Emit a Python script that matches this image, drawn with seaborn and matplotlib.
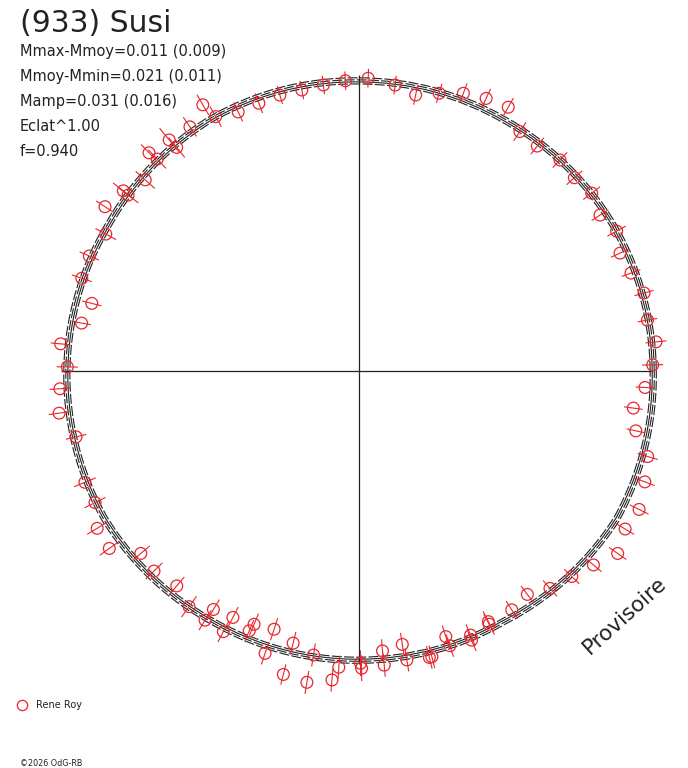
import numpy as np
import pandas as pd
import matplotlib
matplotlib.use("Agg")
import matplotlib.pyplot as plt
import seaborn as sns

# measurements: rotational phase (deg) and scaled radius, with half error bar
phase_deg = [1.2, 5.6, 10.0, 15.3, 19.8, 24.3, 28.5, 32.9, 37.4, 41.9,
             46.4, 51.6, 56.1, 60.5, 65.0, 69.4, 73.9, 78.4, 82.8, 88.2,
             92.7, 97.1, 101.5, 106.0, 110.5, 115.0, 119.4, 120.4, 124.7, 129.2,
             129.4, 133.6, 133.9, 138.2, 142.6, 142.7, 147.1, 151.6, 156.9, 161.5,
             165.8, 170.2, 174.8, 179.2, 183.4, 188.0, 193.1, 202.1, 206.5, 211.0,
             215.4, 219.9, 224.3, 229.7, 234.2, 238.3, 238.6, 242.5, 242.9, 247.1,
             247.5, 251.6, 251.8, 256.0, 256.4, 260.5, 260.9, 265.0, 266.1, 270.3,
             270.5, 274.8, 274.9, 279.0, 279.4, 283.8, 284.3, 288.1, 288.3, 292.7,
             292.9, 297.2, 297.3, 302.6, 307.0, 311.3, 316.0, 320.4, 324.8, 329.3,
             333.7, 338.8, 343.5, 347.8, 352.3, 356.7]
radius = [1.006, 1.022, 1.003, 1.012, 0.990, 0.981, 1.004, 0.983, 1.003, 0.991,
          0.998, 0.983, 0.988, 1.038, 1.030, 1.016, 0.990, 0.965, 0.987, 1.003,
          0.995, 0.987, 0.982, 0.983, 0.979, 0.979, 1.000, 1.057, 1.017, 0.988,
          1.024, 1.002, 1.037, 0.982, 1.016, 0.994, 1.036, 0.986, 1.004, 1.001,
          0.944, 0.964, 1.026, 0.999, 1.026, 1.037, 0.995, 1.013, 1.010, 1.046,
          1.049, 0.974, 0.981, 0.965, 0.995, 1.003, 0.957, 1.006, 0.948, 0.966,
          0.939, 1.019, 0.931, 1.071, 0.959, 1.081, 0.985, 1.062, 1.017, 1.001,
          1.018, 0.962, 1.011, 0.948, 1.003, 1.010, 1.010, 0.957, 0.991, 0.999,
          0.982, 0.975, 0.966, 0.971, 0.958, 0.991, 1.013, 1.042, 1.084, 1.060,
          1.070, 1.050, 1.031, 0.970, 0.948, 0.981]
radius_err = [0.036, 0.036, 0.034, 0.034, 0.034, 0.034, 0.036, 0.034, 0.036, 0.036,
              0.036, 0.036, 0.038, 0.036, 0.036, 0.036, 0.034, 0.034, 0.032, 0.032,
              0.032, 0.032, 0.032, 0.032, 0.036, 0.036, 0.040, 0.040, 0.040, 0.044,
              0.052, 0.044, 0.040, 0.044, 0.044, 0.044, 0.036, 0.040, 0.036, 0.036,
              0.034, 0.032, 0.034, 0.036, 0.036, 0.036, 0.036, 0.040, 0.040, 0.040,
              0.040, 0.040, 0.040, 0.040, 0.044, 0.040, 0.040, 0.040, 0.040, 0.040,
              0.040, 0.040, 0.040, 0.036, 0.040, 0.040, 0.040, 0.040, 0.040, 0.044,
              0.044, 0.040, 0.040, 0.040, 0.040, 0.040, 0.040, 0.040, 0.040, 0.040,
              0.040, 0.040, 0.040, 0.036, 0.036, 0.036, 0.036, 0.036, 0.036, 0.036,
              0.036, 0.036, 0.036, 0.032, 0.032, 0.032]

# fitted curve radius every 30 deg
curve_deg = [0, 30, 60, 90, 120, 150, 180, 210, 240, 270, 300, 330]
curve_r = [1.007, 1.003, 0.993, 0.993, 1.000, 0.993, 1.000, 1.007, 0.993, 0.990, 0.990, 1.017]
curve_offsets = [-0.010, -0.003, 0.004, 0.011]
curve_dashed = [True, False, True, True]

axis_deg = [0, 90, 180, 270]
axis_len = [1.0, 1.013, 1.02, 1.005]

title = "(933) Susi"
stats = ["Mmax-Mmoy=0.011 (0.009)", "Mmoy-Mmin=0.021 (0.011)",
         "Mamp=0.031 (0.016)", "Eclat^1.00", "f=0.940"]
observer = "Rene Roy"
copyright_txt = "\u00a92026 OdG-RB"
watermark = "Provisoire"

RED = "#e8262e"
INK = "#222222"

sns.set_style("white")
plt.rcParams['font.family'] = ['DejaVu Sans']

W, H = 688, 768
cx, cy = 359, 371
scale = 292.0
rmax = 1.15
rad_px = rmax * scale

fig = plt.figure(figsize=(W / 100, H / 100), dpi=100)
ax = fig.add_axes([(cx - rad_px) / W, (H - cy - rad_px) / H, 2 * rad_px / W, 2 * rad_px / H],
                  projection="polar")
ax.set_ylim(0, rmax)
ax.set_axis_off()

# cross through the centre
ax.vlines(np.deg2rad(axis_deg), 0, axis_len, colors=INK, lw=0.9)

# curve bundle
th_c = np.deg2rad(curve_deg + [360])
r_c = np.array(curve_r + [curve_r[0]])
for off, dashed in zip(curve_offsets, curve_dashed):
    line, = ax.plot(th_c, r_c + off, color=INK, lw=0.8, clip_on=False)
    if dashed:
        line.set_dashes((9, 2))
    line.get_path()._interpolation_steps = 40

# data points with radial error bars
df = pd.DataFrame({"theta": np.deg2rad(phase_deg), "r": radius, "err": radius_err})
ax.vlines(df.theta, df.r - df.err, df.r + df.err, colors=RED, lw=0.8, zorder=3)
sns.scatterplot(data=df, x="theta", y="r", ax=ax, marker="o", s=72,
                facecolor="none", edgecolor=RED, linewidth=0.9, zorder=4, clip_on=False)
ax.set_axis_off()

# texts
fig.text(20 / W, 1 - 32.5 / H, title, fontsize=21.5, color=INK, va="baseline")
for i, s in enumerate(stats):
    fig.text(20 / W, 1 - (55.7 + 25 * i) / H, s, fontsize=10.5, color=INK, va="baseline")

fig.add_artist(plt.Line2D([22 / W], [1 - 705 / H], marker="o", ms=7.4, mfc="none",
                          mec=RED, mew=0.9, transform=fig.transFigure))
fig.text(36 / W, 1 - 705 / H, observer, fontsize=7, color=INK, va="center")
fig.text(20 / W, 1 - 766 / H, copyright_txt, fontsize=5.8, color=INK, va="baseline")
fig.text(625 / W, 1 - 615 / H, watermark, fontsize=15.5, color=INK, rotation=42,
         rotation_mode="anchor", ha="center", va="center")

fig.savefig("out.png", dpi=100, facecolor="white")
